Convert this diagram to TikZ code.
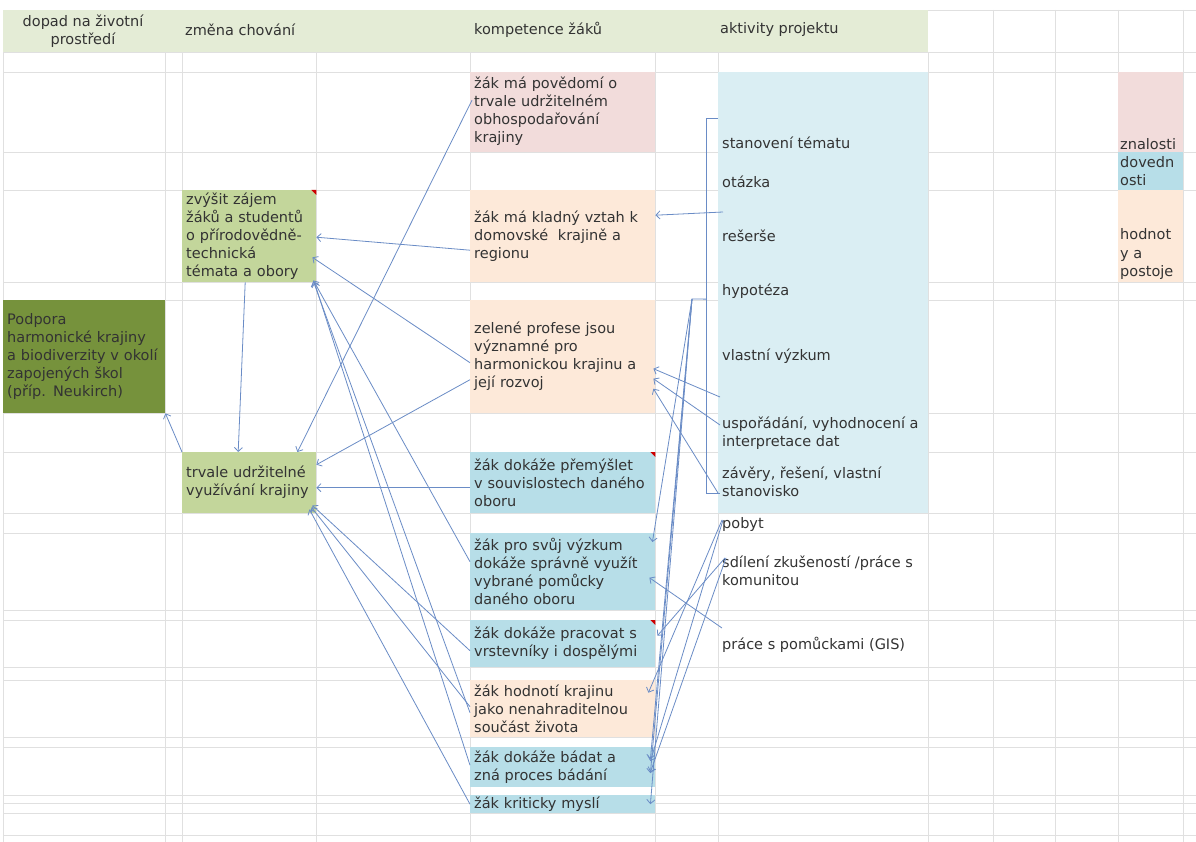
\documentclass[tikz,border=0pt]{standalone}
\usepackage{fontspec}
\setmainfont{DejaVu Sans}
\usetikzlibrary{calc,arrows.meta}

\definecolor{hdrgreen}{HTML}{E4ECD6}
\definecolor{darkolive}{HTML}{76923C}
\definecolor{lightolive}{HTML}{C3D69B}
\definecolor{rosy}{HTML}{F2DCDB}
\definecolor{peach}{HTML}{FDE9D9}
\definecolor{aquablue}{HTML}{B7DEE8}
\definecolor{palecyan}{HTML}{DAEEF3}
\definecolor{arrowblue}{HTML}{6A8CC6}
\definecolor{gridgrey}{HTML}{E0E0E0}
\newcommand{\cellfont}{\fontsize{14.5}{18}\selectfont}

\begin{document}
\begin{tikzpicture}[
			x=1pt, y=-1pt,
			>={Straight Barb[length=4pt,width=8pt]},
			cell/.style = {anchor=north west, inner xsep=4pt, inner ysep=0pt, align=left, font=\cellfont, text=black!80},
			act/.style = {anchor=west, inner sep=0pt, align=left, font=\cellfont, text=black!80},
			con/.style = {draw=arrowblue, line width=0.8pt},
			gridline/.style = {draw=gridgrey, line width=0.6pt}
		]
		\useasboundingbox (0,0) rectangle (1196,842);
		\fill[white] (0,0) rectangle (1196,842);
		% sheet grid
		\foreach \gx in {3,165,182,316,470,655,718,928}
			\draw[gridline] (\gx,52) -- (\gx,842);
		\foreach \gx in {993,1055,1118,1183}
			\draw[gridline] (\gx,10) -- (\gx,842);
		\foreach \gy in {10,52,72,152,190,282,300,413,452,513,533,610,620,667,680,737,747,795,803,813,835}
			\draw[gridline] (3,\gy) -- (1196,\gy);
		% header row
		\fill[hdrgreen] (3,10) rectangle (928,52);
		\node[font=\cellfont, align=center, text=black!80, inner sep=0pt] (hdopad) at (83,31) {dopad na životní\\prostředí};
		\node[act] (hzmena) at (185,30) {změna chování};
		\node[act] (hkomp) at (474,30) {kompetence žáků};
		\node[act] (hakt) at (720,30) {aktivity projektu};
		% project activities
		\fill[palecyan] (718,72) rectangle (928,513);
		\node[act] (stanov) at (722,143) {stanovení tématu};
		\node[act] (otazka) at (722,182) {otázka};
		\node[act] (reserse) at (722,236) {rešerše};
		\node[act] (hypo) at (722,291) {hypotéza};
		\node[act] (vyzkum) at (722,356) {vlastní výzkum};
		\node[act] (usporad) at (722,433) {uspořádání, vyhodnocení a\\interpretace dat};
		\node[act] (zavery) at (722,481.5) {závěry, řešení, vlastní\\stanovisko};
		\node[act] (pobyt) at (722,524) {pobyt};
		\node[act] (sdileni) at (722,571) {sdílení zkušeností /práce s\\komunitou};
		\node[act] (pomucky) at (722,645) {práce s pomůckami (GIS)};
		% legend
		\fill[rosy] (1118,72) rectangle (1183,152);
		\fill[aquablue] (1118,152) rectangle (1183,190);
		\fill[peach] (1118,190) rectangle (1183,282);
		\node[act] (leg1) at (1120,144) {znalosti};
		\node[act] (leg2) at (1120,171) {dovedn\\osti};
		\node[act] (leg3) at (1120,254) {hodnot\\y a\\postoje};
		% impact and behaviour
		\node[cell, fill=darkolive, text width=154pt, minimum height=113pt] (podpora) at (3,300) {Podpora\\harmonické krajiny\\a biodiverzity v okolí\\zapojených škol\\(příp. Neukirch)};
		\node[cell, fill=lightolive, text width=126pt, minimum height=92pt] (zvysit) at (182,190) {zvýšit zájem\\žáků a studentů\\o přírodovědně-\\technická\\témata a obory};
		\node[cell, fill=lightolive, text width=126pt, minimum height=61pt] (trvale) at (182,452) {trvale udržitelné\\využívání krajiny};
		% competences
		\node[cell, fill=rosy, text width=177pt, minimum height=80pt] (povedomi) at (470,72) {\\[-8pt]žák má povědomí o\\trvale udržitelném\\obhospodařování\\krajiny};
		\node[cell, fill=peach, text width=177pt, minimum height=92pt] (kladny) at (470,190) {žák má kladný vztah k\\domovské \ krajině a\\regionu};
		\node[cell, fill=peach, text width=177pt, minimum height=113pt] (zelene) at (470,300) {zelené profese jsou\\významné pro\\harmonickou krajinu a\\její rozvoj};
		\node[cell, fill=aquablue, text width=177pt, minimum height=61pt] (premyslet) at (470,452) {žák dokáže přemýšlet\\v souvislostech daného\\oboru};
		\node[cell, fill=aquablue, text width=177pt, minimum height=77pt] (prosvuj) at (470,533) {žák pro svůj výzkum\\dokáže správně využít\\vybrané pomůcky\\daného oboru};
		\node[cell, fill=aquablue, text width=177pt, minimum height=47pt] (pracovat) at (470,620) {žák dokáže pracovat s\\vrstevníky i dospělými};
		\node[cell, fill=peach, text width=177pt, minimum height=57pt] (hodnoti) at (470,680) {žák hodnotí krajinu\\jako nenahraditelnou\\součást života};
		\node[cell, fill=aquablue, text width=177pt, minimum height=40pt] (badat) at (470,747) {žák dokáže bádat a\\zná proces bádání};
		\node[cell, fill=aquablue, text width=177pt, minimum height=18pt] (kriticky) at (470,795) {žák kriticky myslí};
		% comment marks
		\foreach \n in {zvysit,premyslet,pracovat}
			\fill[red!80!black] ($(\n.north east)+(-5,0)$) -- (\n.north east) -- ($(\n.north east)+(0,5)$) -- cycle;
		% bracket over the research steps
		\coordinate (brtop) at ($(stanov.west)+(-16,-25)$);
		\coordinate (brbot) at ($(zavery.west)+(-16,11.5)$);
		\coordinate (hyp) at (692,299);
		\draw[con] ($(stanov.west)+(-4,-25)$) -- (brtop) -- (brbot) -- ($(zavery.west)+(-2,11.5)$);
		\draw[con] ($(brtop)!0.483!(brbot)$) -- (hyp);
		% competences -> behaviour
		\draw[con,->] (trvale.north west) -- (podpora.south east);
		\draw[con,->] ($(zvysit.south)+(-4,0)$) to ($(trvale.north)+(-11,0)$);
		\draw[con,->] ($(povedomi.west)+(2,-12)$) to ($(trvale.north east)+(-19,0)$);
		\draw[con,->] ($(kladny.west)+(0,14)$) to ($(zvysit.east)+(0,1)$);
		\draw[con,->] ($(zelene.west)+(0,6)$) to ($(zvysit.south east)+(-4,-25)$);
		\draw[con,->] ($(zelene.west)+(0,23)$) to ($(trvale.east)+(0,-18)$);
		\draw[con,->] ($(premyslet.west)+(0,5)$) to ($(trvale.east)+(0,5)$);
		\draw[con,->] ($(prosvuj.west)+(0,-10)$) to ($(zvysit.south east)+(-3,-2)$);
		\draw[con,->] ($(hodnoti.west)+(0,4)$) to ($(zvysit.south east)+(-3,-1)$);
		\draw[con,->] ($(badat.west)+(0,-2)$) to ($(zvysit.south east)+(-2,0)$);
		\draw[con,->] ($(pracovat.west)+(0,7)$) to ($(trvale.south east)+(-4,-8)$);
		\draw[con,->] ($(hodnoti.west)+(0,-2)$) to ($(trvale.south east)+(-5,-6)$);
		\draw[con,->] (kriticky.west) to ($(trvale.south east)+(-7,-4)$);
		% activities -> competences
		\draw[con,->] ($(reserse.west)+(1,-24)$) to ($(kladny.east)+(0,-21)$);
		\draw[con,->] ($(usporad.west)+(-2,-36)$) to ($(zelene.east)+(-2,12)$);
		\draw[con,->] ($(usporad.west)+(-2,-8)$) to ($(zelene.east)+(-2,22)$);
		\draw[con,->] ($(zavery.west)+(-4,11.5)$) to ($(zelene.east)+(-2,32)$);
		\draw[con,->] (hyp) to ($(prosvuj.north east)+(-3,9)$);
		\draw[con,->] (hyp) to ($(badat.east)+(-5,-8)$);
		\draw[con,->] (hyp) to ($(badat.east)+(-5,6)$);
		\draw[con,->] (hyp) to ($(kriticky.east)+(-5,0)$);
		\draw[con,->] ($(pobyt.west)+(0,-4)$) to ($(hodnoti.east)+(-7,-16)$);
		\draw[con,->] ($(pobyt.west)+(1,-4)$) to ($(badat.east)+(-5,-6)$);
		\draw[con,->] ($(sdileni.north west)+(3,2)$) to ($(pracovat.east)+(2,-8)$);
		\draw[con,->] ($(sdileni.north west)+(4,2)$) to ($(badat.east)+(-5,5)$);
		\draw[con,->] ($(pomucky.west)+(0,-17)$) to ($(prosvuj.east)+(-6,6)$);
	\end{tikzpicture}
\end{document}
